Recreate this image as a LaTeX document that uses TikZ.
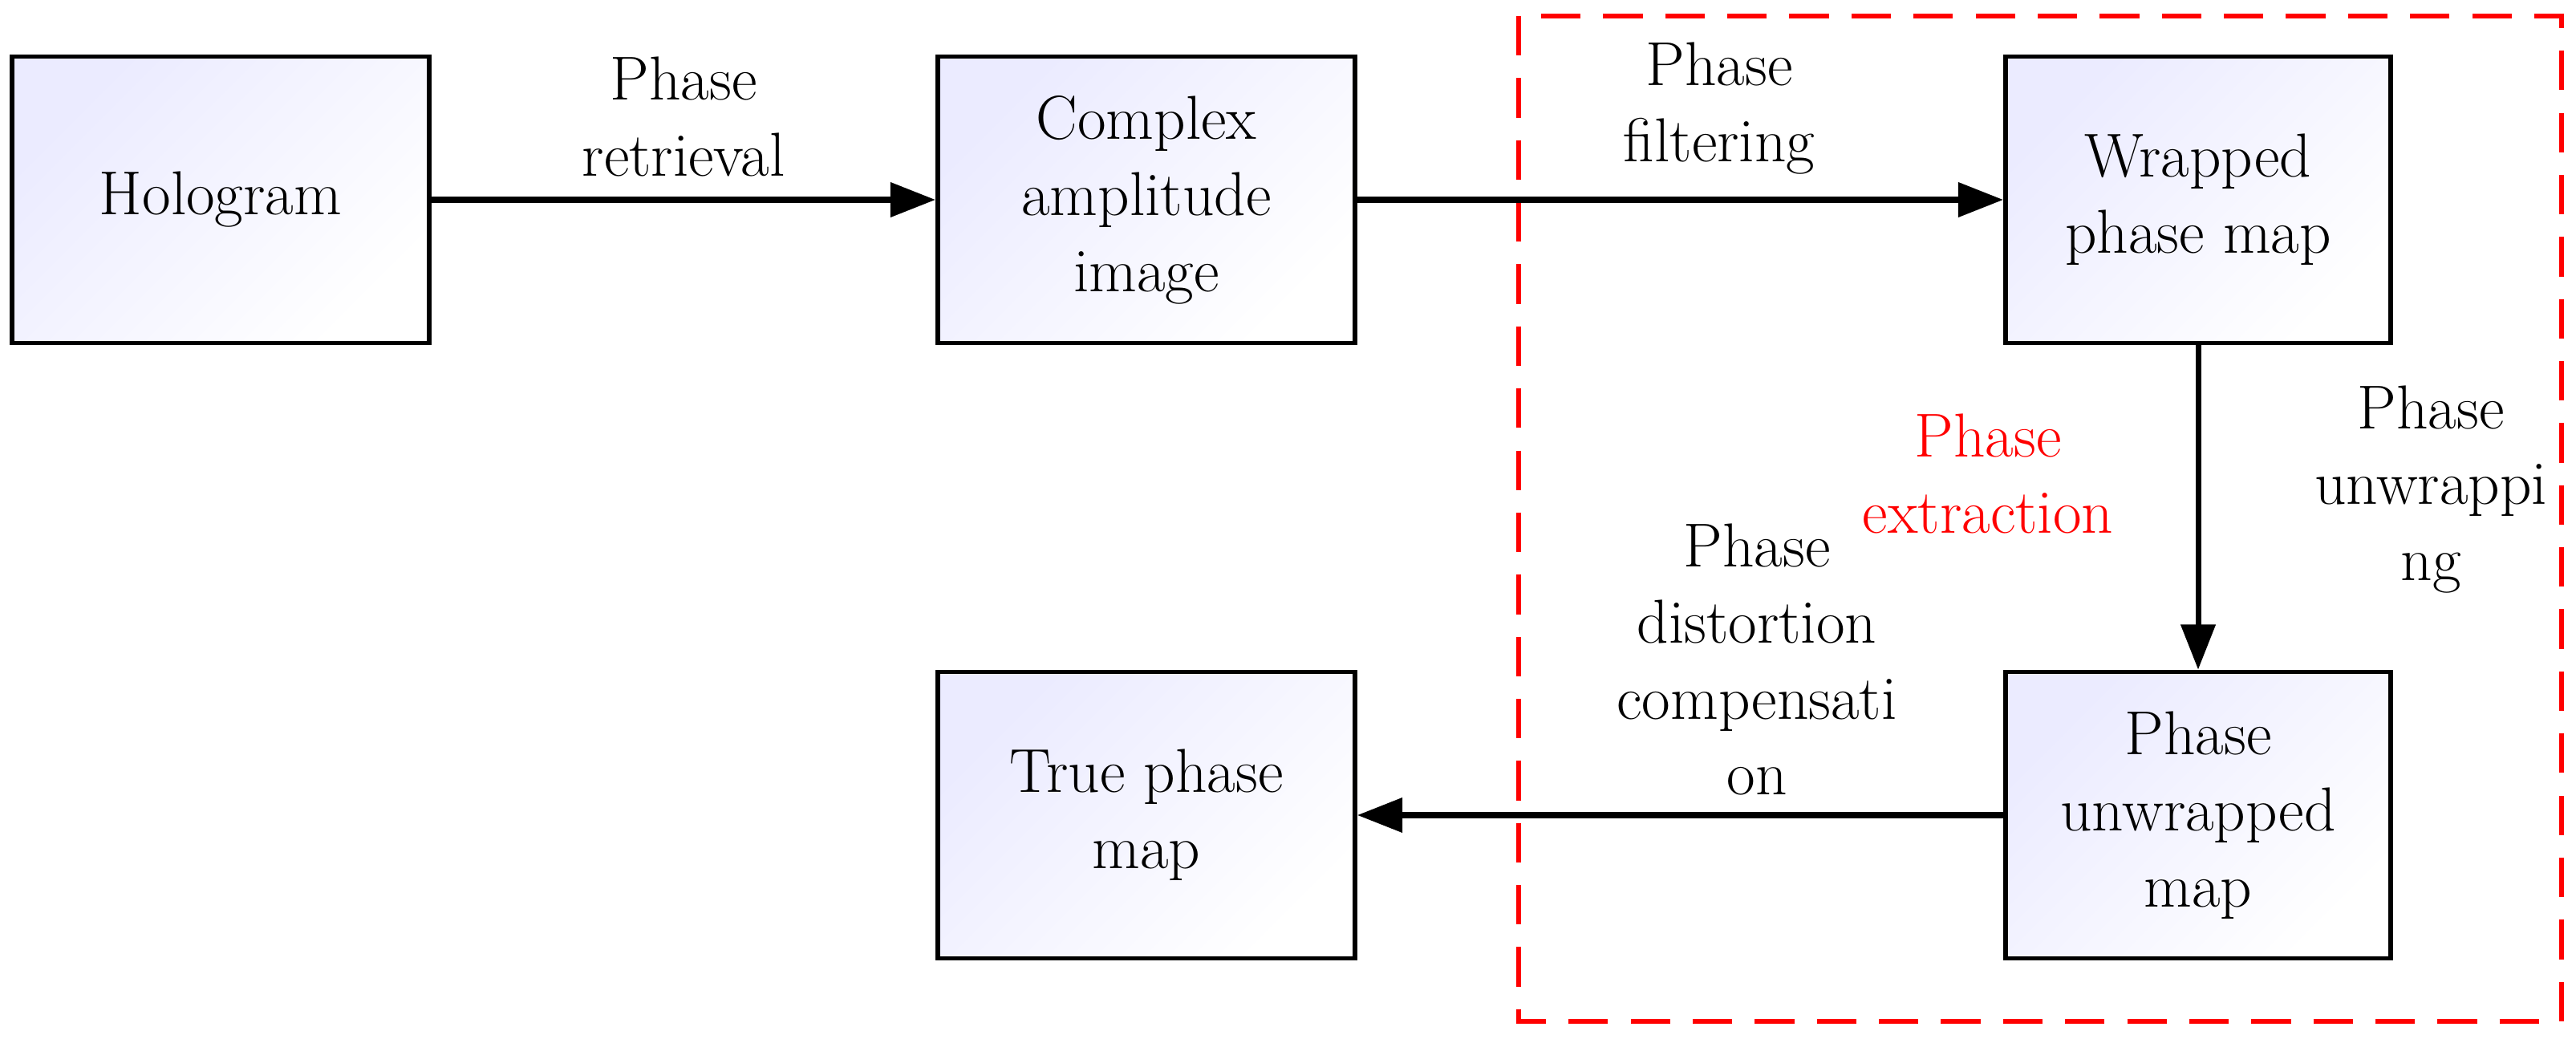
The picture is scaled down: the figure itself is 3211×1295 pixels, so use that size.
\documentclass[tikz,border=0pt]{standalone}
\usetikzlibrary{arrows.meta}
\begin{document}
\begin{tikzpicture}[x=0.01cm,y=-0.01cm,
 box/.style={draw,line width=1.6pt,minimum width=5.2cm,minimum height=3.57cm,align=center,font=\fontsize{22}{27}\selectfont,
  shading=axis,left color=blue!8,right color=white,shading angle=45},
 lab/.style={align=center,font=\fontsize{22}{27}\selectfont},
 arr/.style={line width=2pt,-{Triangle[length=16pt,width=12pt]}}]
\useasboundingbox (0,0) rectangle (3211,1295);
\draw[red,dashed,line width=1.8pt,dash pattern=on 14pt off 8pt] (1893,20) rectangle (3193,1273);
\node[box] (holo) at (275,249) {Hologram};
\node[box] (comp) at (1429,249) {Complex\\amplitude\\image};
\node[box,minimum width=4.8cm] (wrap) at (2740,249) {Wrapped\\phase map};
\node[box,minimum width=4.8cm] (unw) at (2740,1016) {Phase\\unwrapped\\map};
\node[box] (true) at (1429,1016) {True phase\\map};
\draw[arr] (holo) -- (comp);
\draw[arr] (comp) -- (wrap);
\draw[arr] (wrap) -- (unw);
\draw[arr] (unw) -- (true);
\node[lab] (l1) at (852,145) {Phase\\retrieval};
\node[lab] (l2) at (2143,135) {Phase\\filtering};
\node[lab,text=red] (l3) at (2478,590) {Phase\\extraction};
\node[lab] (l4) at (3030,610) {Phase\\unwrappi\\ng};
\node[lab] (l5) at (2190,822) {Phase\\distortion\\compensati\\on};
\end{tikzpicture}
\end{document}
